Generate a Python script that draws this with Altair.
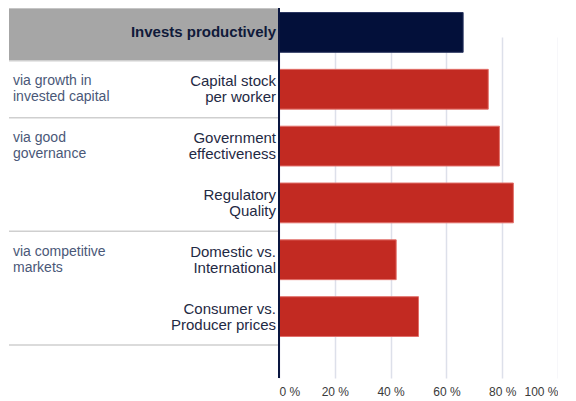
import altair as alt
import pandas as pd

# ---- data ----
labels = [
    ["Invests productively"],
    ["Capital stock", "per worker"],
    ["Government", "effectiveness"],
    ["Regulatory", "Quality"],
    ["Domestic vs.", "International"],
    ["Consumer vs.", "Producer prices"],
]
values = [66, 75, 79, 84, 42, 50]
groups = [
    None,
    ["via growth in", "invested capital"],
    ["via good", "governance"],
    None,
    ["via competitive", "markets"],
    None,
]
x_ticks = [0, 20, 40, 60, 80, 100]

rows = list(range(len(values)))
df = pd.DataFrame({
    "row": rows,
    "label": labels,
    "value": values,
})
gdf = pd.DataFrame({
    "row": [r for r, g in zip(rows, groups) if g],
    "glabel": [g for g in groups if g],
})
# separators: group starts after header + end of list
seps = [r for r, g in zip(rows, groups) if g] + [len(rows)]
sdf = pd.DataFrame({"pos": [0.07] + seps})
hdf = pd.DataFrame({"top": [0.07], "bottom": [1.0]})

NAVY = "#03103a"
RED = "#c22a22"
FONT = "Liberation Sans"

yscale = alt.Scale(domain=[0, 6], range=[0, 341], zero=False, nice=False)
xscale = alt.Scale(domain=[0, 100], nice=False)

base = alt.Chart(df)

header_band = alt.Chart(hdf).mark_rect(color="#a6a6a6").encode(
    x=alt.value(-270), x2=alt.value(0),
    y=alt.Y("top:Q", scale=yscale, axis=None),
    y2="bottom:Q",
)

separators = alt.Chart(sdf).mark_rule(color="#cfcfcf", strokeWidth=1.5).encode(
    x=alt.value(-270), x2=alt.value(0),
    y=alt.Y("pos:Q", scale=yscale, axis=None),
)

bars = base.transform_calculate(
    y0="datum.row + 0.15", y1="datum.row + 0.85"
).mark_bar(strokeWidth=1).encode(
    x=alt.X("value:Q", scale=xscale,
            axis=alt.Axis(values=x_ticks, labelExpr="datum.value + ' %'", title=None,
                          domain=False, ticks=False, grid=True, gridColor="#dde0ea",
                          gridWidth=1.5, labelFont=FONT, labelFontSize=12,
                          labelColor="#3a3a3a", labelPadding=8)),
    x2=alt.datum(0),
    y=alt.Y("y0:Q", scale=yscale, axis=None),
    y2="y1:Q",
    color=alt.condition("datum.row == 0", alt.value(NAVY), alt.value(RED)),
    stroke=alt.condition("datum.row == 0", alt.value("#2a3560"), alt.value("#e2706a")),
)

zero_line = alt.Chart(pd.DataFrame({"z": [0]})).mark_rule(color="#0a1640", strokeWidth=2).encode(
    x=alt.X("z:Q", scale=xscale),
)

cat_text = base.transform_filter("datum.row > 0").transform_calculate(
    yc="datum.row + 0.5"
).mark_text(align="right", baseline="middle", font=FONT, fontSize=15,
            lineHeight=16, dy=-8, color="#1f2a44").encode(
    x=alt.value(-3),
    y=alt.Y("yc:Q", scale=yscale, axis=None),
    text="label",
)

head_text = base.transform_filter("datum.row == 0").transform_calculate(
    yc="datum.row + 0.5"
).mark_text(align="right", baseline="middle", font=FONT, fontSize=15,
            fontWeight="bold", color="#101a3a").encode(
    x=alt.value(-3),
    y=alt.Y("yc:Q", scale=yscale, axis=None),
    text="label",
)

grp_text = alt.Chart(gdf).transform_calculate(
    yc="datum.row + 0.5"
).mark_text(align="left", baseline="middle", font=FONT, fontSize=14,
            lineHeight=16, dy=-8, color="#4a5878").encode(
    x=alt.value(-266),
    y=alt.Y("yc:Q", scale=yscale, axis=None),
    text="glabel",
)

chart = alt.layer(
    header_band, separators, bars, zero_line, cat_text, head_text, grp_text
).properties(
    width=279, height=374,
    padding={"left": 0, "top": -5, "right": 0, "bottom": 0},
).configure_view(stroke=None)

chart.save("out.html", embed_options={"renderer": "svg", "actions": False})
